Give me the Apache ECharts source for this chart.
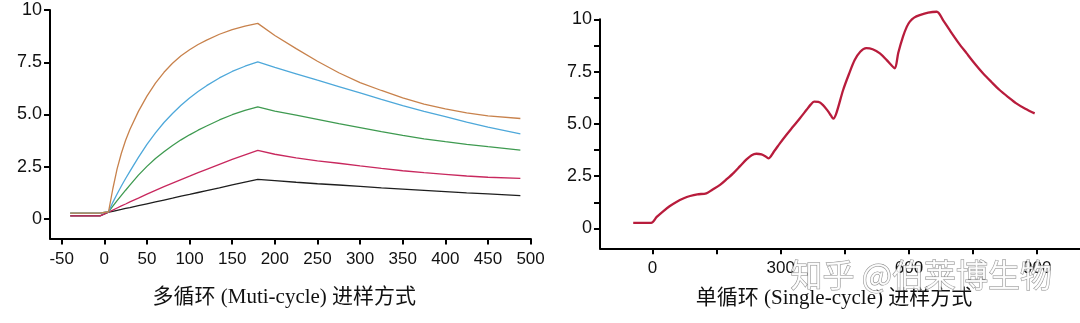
<!DOCTYPE html>
<html>
<head>
<meta charset="utf-8">
<script src="https://cdn.jsdelivr.net/npm/echarts@6/dist/echarts.min.js"></script>
<style>
html,body{margin:0;padding:0;background:#fff;}
#main{width:1080px;height:323px;}
</style>
</head>
<body>
<div id="main"></div>
<script>
// 多循环: 时间点 (s) 与五条曲线
var tMulti = [-40, -5, 5, 10, 15, 20, 25, 30, 40, 50, 60, 70, 80, 90, 100, 110, 120, 135, 150, 165, 180,
    200, 225, 250, 275, 300, 325, 350, 375, 400, 425, 450, 488]
var cOrange = [0.28, 0.28, 0.35, 1.45, 2.4, 3.15, 3.77, 4.28, 5.15, 5.88, 6.5, 7.02, 7.45, 7.81, 8.1, 8.35, 8.56, 8.84, 9.06, 9.23, 9.36,
    8.78, 8.15, 7.55, 7.0, 6.53, 6.15, 5.8, 5.5, 5.27, 5.08, 4.94, 4.81]
var cBlue = [0.28, 0.28, 0.35, 0.8, 1.2, 1.58, 1.94, 2.28, 2.95, 3.57, 4.12, 4.62, 5.05, 5.44, 5.79, 6.1, 6.38, 6.75, 7.06, 7.31, 7.52,
    7.26, 6.95, 6.64, 6.34, 6.04, 5.73, 5.43, 5.15, 4.9, 4.64, 4.4, 4.07]
var cGreen = [0.28, 0.28, 0.35, 0.62, 0.88, 1.13, 1.38, 1.62, 2.1, 2.52, 2.9, 3.22, 3.52, 3.79, 4.03, 4.25, 4.45, 4.74, 4.99, 5.2, 5.37,
    5.16, 4.97, 4.77, 4.56, 4.37, 4.18, 4.0, 3.84, 3.7, 3.57, 3.46, 3.3]
var cRed = [0.15, 0.15, 0.33, 0.43, 0.53, 0.63, 0.72, 0.82, 1.0, 1.19, 1.37, 1.55, 1.72, 1.89, 2.05, 2.22, 2.38, 2.62, 2.85, 3.07, 3.28,
    3.1, 2.93, 2.78, 2.67, 2.54, 2.42, 2.31, 2.22, 2.14, 2.06, 2.0, 1.95]
var cBlack = [0.15, 0.15, 0.33, 0.37, 0.42, 0.46, 0.51, 0.55, 0.64, 0.73, 0.82, 0.91, 1.0, 1.1, 1.18, 1.27, 1.36, 1.49, 1.63, 1.77, 1.9,
    1.84, 1.76, 1.69, 1.63, 1.56, 1.49, 1.43, 1.37, 1.31, 1.25, 1.2, 1.12]

// 单循环
var tSingle = [-45, -3, 10, 25, 40, 57, 72, 88, 105, 126, 140, 158, 175, 190, 205, 220, 232, 243, 255, 264, 271,
    285, 298, 313, 329, 345, 360, 370, 378, 388, 399, 410, 418, 423, 430, 446, 460, 473, 486, 500, 515, 532, 548, 560, 567,
    575, 586, 595, 602, 612, 625, 645, 665, 680, 695, 715, 735, 755, 773, 793, 812, 832, 851, 872, 894]
var vSingle = [0.27, 0.27, 0.55, 0.82, 1.06, 1.28, 1.43, 1.55, 1.63, 1.68, 1.85, 2.08, 2.38, 2.66, 2.98, 3.3, 3.5, 3.57, 3.54, 3.45, 3.35,
    3.7, 4.07, 4.47, 4.87, 5.27, 5.66, 5.92, 6.06, 6.05, 5.9, 5.62, 5.38, 5.25, 5.5, 6.62, 7.4, 8.05, 8.45, 8.62, 8.57, 8.37, 8.05, 7.78, 7.66,
    8.4, 9.17, 9.65, 9.89, 10.08, 10.2, 10.32, 10.36, 9.95, 9.49, 8.9, 8.37, 7.85, 7.42, 7.0, 6.62, 6.28, 5.98, 5.72, 5.5]

// 刻度
var xTicksMulti = [-50, 0, 50, 100, 150, 200, 250, 300, 350, 400, 450, 500]
var yTicks = [0, 2.5, 5, 7.5, 10]
var yTickLabels = ['0', '2.5', '5.0', '7.5', '10']
var yTicksSingle = [0, 1.25, 2.5, 3.75, 5, 6.25, 7.5, 8.75, 10]
var xTicksSingle = [0, 150, 300, 450, 600, 750, 900]
var xLabelsSingle = [0, 300, 600, 900]

function pairs(xs, ys) {
    var out = []
    for (var i = 0; i < xs.length; i++) {
        out.push([xs[i], ys[i]])
    }
    return out
}
function yFmt(v) {
    var i = yTicks.indexOf(v)
    return i >= 0 ? yTickLabels[i] : ''
}

var fontSans = "'Liberation Sans', Arial, sans-serif"
var xLabelFont = {color: '#111', fontSize: 17, fontFamily: fontSans}
var yLabelFont = {color: '#111', fontSize: 18, fontFamily: fontSans}
var nameFont = {color: '#111', fontSize: 21, fontFamily: "'Liberation Serif', 'Noto Sans CJK SC', serif"}
var lineStyleAxis = {color: '#000', width: 2}
var tickStyle = {width: 2, color: '#000'}

var myChart = echarts.init(document.getElementById('main'))
var option = {
    animation: false,
    backgroundColor: '#fff',
    grid: [
        {left: 50, top: 10, width: 480.6, height: 228.5},
        {left: 600, top: 19.3, width: 480, height: 229}
    ],
    xAxis: [
        {
            gridIndex: 0, type: 'value', min: -63.7, max: 500,
            axisLine: {onZero: false, lineStyle: lineStyleAxis},
            axisTick: {length: 6, lineStyle: tickStyle, customValues: xTicksMulti},
            axisLabel: Object.assign({margin: 12, customValues: xTicksMulti}, xLabelFont),
            splitLine: {show: false},
            name: '多循环 (Muti-cycle) 进样方式', nameLocation: 'middle', nameGap: 48,
            nameTextStyle: Object.assign({padding: [0, 12, 0, 0]}, nameFont)
        },
        {
            gridIndex: 1, type: 'value', min: -122.7, max: 1000,
            axisLine: {onZero: false, lineStyle: lineStyleAxis},
            axisTick: {length: 6, lineStyle: tickStyle, customValues: xTicksSingle},
            axisLabel: Object.assign({margin: 12, customValues: xLabelsSingle}, xLabelFont),
            splitLine: {show: false},
            name: '单循环 (Single-cycle) 进样方式', nameLocation: 'middle', nameGap: 40,
            nameTextStyle: Object.assign({padding: [0, 12, 0, 0]}, nameFont)
        }
    ],
    yAxis: [
        {
            gridIndex: 0, type: 'value', min: -0.93, max: 10,
            axisLine: {show: true, onZero: false, lineStyle: lineStyleAxis},
            axisTick: {show: true, length: 6, lineStyle: tickStyle, customValues: yTicks},
            axisLabel: Object.assign({margin: 8, customValues: yTicks, formatter: yFmt}, yLabelFont),
            splitLine: {show: false}
        },
        {
            gridIndex: 1, type: 'value', min: -0.95, max: 10,
            axisLine: {show: true, onZero: false, lineStyle: lineStyleAxis},
            axisTick: {show: true, length: 6, lineStyle: tickStyle, customValues: yTicksSingle},
            axisLabel: Object.assign({margin: 8, customValues: yTicks, formatter: yFmt}, yLabelFont),
            splitLine: {show: false}
        }
    ],
    series: [
        {name: 'black', type: 'line', xAxisIndex: 0, yAxisIndex: 0, showSymbol: false, data: pairs(tMulti, cBlack),
            lineStyle: {color: '#1e1e1e', width: 1.3}},
        {name: 'red', type: 'line', xAxisIndex: 0, yAxisIndex: 0, showSymbol: false, data: pairs(tMulti, cRed),
            lineStyle: {color: '#c8285e', width: 1.3}},
        {name: 'green', type: 'line', xAxisIndex: 0, yAxisIndex: 0, showSymbol: false, data: pairs(tMulti, cGreen),
            lineStyle: {color: '#3e9a50', width: 1.3}},
        {name: 'blue', type: 'line', xAxisIndex: 0, yAxisIndex: 0, showSymbol: false, data: pairs(tMulti, cBlue),
            lineStyle: {color: '#4ea8da', width: 1.3}},
        {name: 'orange', type: 'line', xAxisIndex: 0, yAxisIndex: 0, showSymbol: false, data: pairs(tMulti, cOrange),
            lineStyle: {color: '#c8824c', width: 1.3}},
        {name: 'single', type: 'line', xAxisIndex: 1, yAxisIndex: 1, showSymbol: false, smooth: 0.3, clip: false,
            data: pairs(tSingle, vSingle),
            lineStyle: {color: '#b81c3c', width: 2.3}}
    ],
    graphic: [
        {
            type: 'text', left: 790, top: 258, z: 100,
            style: {
                text: '知乎 @伯莱博生物',
                fontSize: 32,
                fontFamily: "'Noto Sans CJK SC', sans-serif",
                fill: 'rgba(255,255,255,0.85)',
                stroke: 'rgba(110,110,110,0.8)',
                lineWidth: 1
            }
        }
    ]
}
myChart.setOption(option)
</script>
</body>
</html>
